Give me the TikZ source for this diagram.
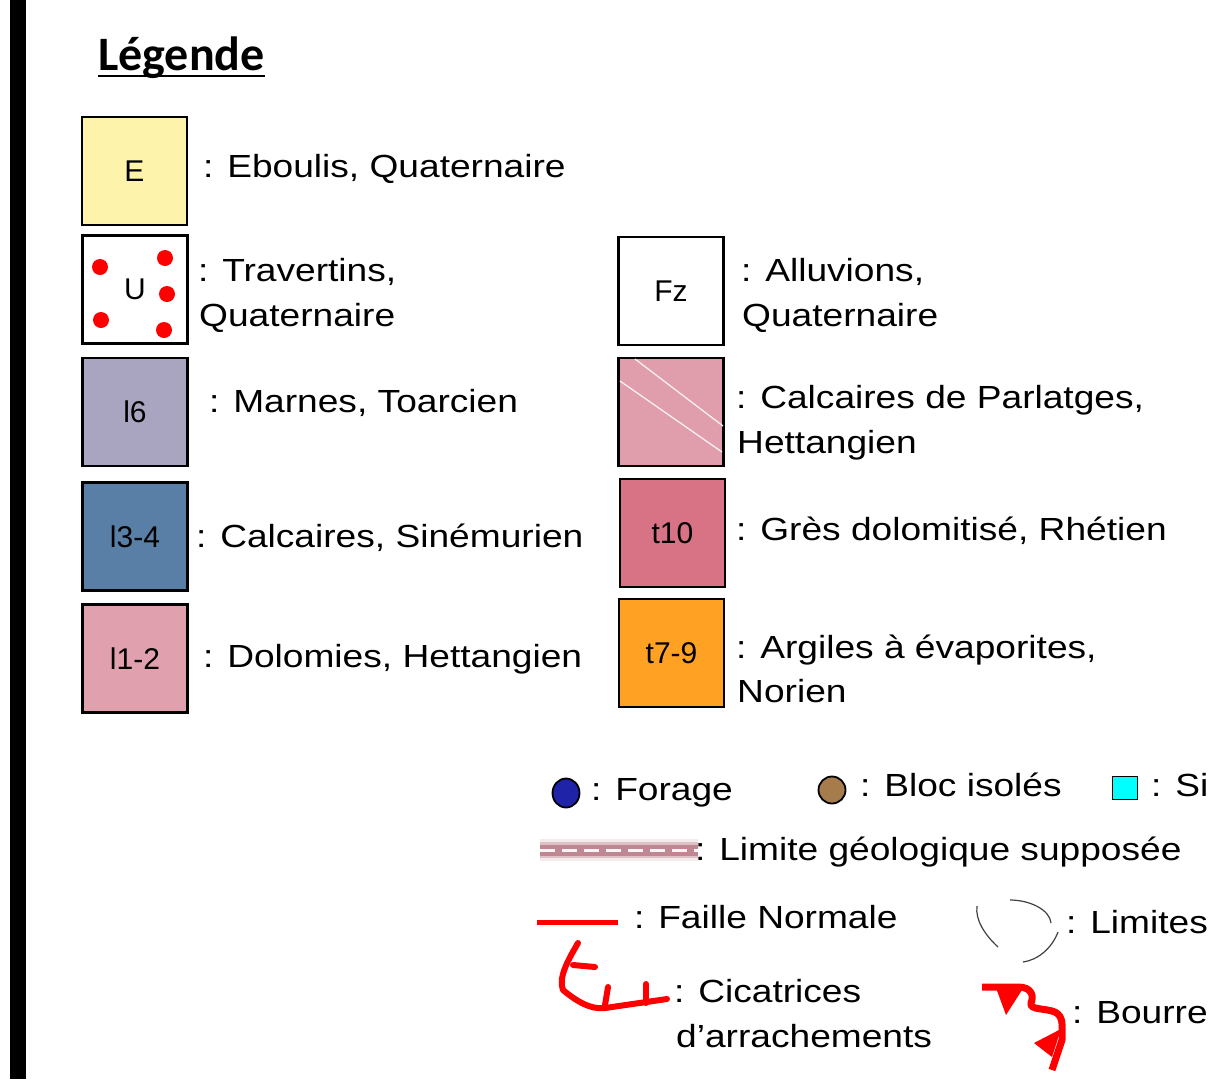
\documentclass[tikz,border=0pt]{standalone}
\usepackage{fontspec}
\usetikzlibrary{shapes.geometric}
\setmainfont[FakeStretch=1.16]{Liberation Sans}
\newfontfamily\labfont{Liberation Sans}
\newfontfamily\titlefont{Carlito}
\definecolor{cE}{HTML}{FDF3AA}
\definecolor{cLsix}{HTML}{A9A4BF}
\definecolor{cLtq}{HTML}{5A7FA6}
\definecolor{cLud}{HTML}{E0A0AE}
\definecolor{cPar}{HTML}{E09DAB}
\definecolor{cTdix}{HTML}{D77384}
\definecolor{cTsn}{HTML}{FFA122}
\definecolor{cFor}{HTML}{1F23A8}
\definecolor{cBloc}{HTML}{A67C4C}
\definecolor{cLim}{HTML}{B87A86}
\definecolor{cSite}{HTML}{00FFFF}
\begin{document}
\begin{tikzpicture}[x=1pt,y=-1pt,
  box/.style={draw=black, line width=2.5pt, minimum width=105pt, minimum height=108pt, inner sep=0pt, font=\labfont\fontsize{30}{36}\selectfont},
  txt/.style={anchor=base west, inner sep=0pt, font=\fontsize{32}{38}\selectfont},
  rdot/.style={circle, fill=red, minimum size=16pt, inner sep=0pt},
  redline/.style={draw=red, line width=6pt, line cap=round, line join=round},
]
\useasboundingbox (0,0) rectangle (1209,1079);
\fill[black] (10,0) rectangle (25.5,1079);

% title
\node[anchor=base west, inner sep=0pt, font=\titlefont\bfseries\fontsize{48}{52}\selectfont] (title) at (98,70) {Légende};
\draw[line width=2pt] ([yshift=-6pt]title.base west) -- ([yshift=-6pt]title.base east);

% boxes, left column
\node[box, fill=cE] (E) at (134.5,171) {E};
\node[box, fill=white] (U) at (135,289.5) {U};
\node[rdot] (d1) at (100,267) {};
\node[rdot] (d2) at (165,258) {};
\node[rdot] (d3) at (167,294) {};
\node[rdot] (d4) at (101,320) {};
\node[rdot] (d5) at (164,330) {};
\node[box, fill=cLsix] (l6) at (135,412) {l6};
\node[box, fill=cLtq] (l34) at (135,536.5) {l3-4};
\node[box, fill=cLud] (l12) at (135,658.5) {l1-2};

% boxes, right column
\node[box, fill=white] (Fz) at (671,291) {Fz};
\node[box, fill=cPar] (Par) at (671,412) {};
\draw[white!85!cPar, line width=1.3pt] (635,359) -- (723,426);
\draw[white!85!cPar, line width=1.3pt] (620,381) -- (722,452);
\node[box, fill=cTdix] (t10) at (672.5,533) {t10};
\node[box, fill=cTsn] (t79) at (671.5,653) {t7-9};

% texts
\node[txt] (tE) at (203,177) {: Eboulis, Quaternaire};
\node[txt] (tU) at (198,281) {: Travertins,};
\node[txt] (tUb) at (199,326) {Quaternaire};
\node[txt] (tl6) at (209,412) {: Marnes, Toarcien};
\node[txt] (tl34) at (196,547) {: Calcaires, Sinémurien};
\node[txt] (tl12) at (203,667) {: Dolomies, Hettangien};
\node[txt] (tFz) at (741,281) {: Alluvions,};
\node[txt] (tFzb) at (742,326) {Quaternaire};
\node[txt] (tPar) at (736,408) {: Calcaires de Parlatges,};
\node[txt] (tParb) at (737,453) {Hettangien};
\node[txt] (tt10) at (736,540) {: Grès dolomitisé, Rhétien};
\node[txt] (tt79) at (736,658) {: Argiles à évaporites,};
\node[txt] (tt79b) at (737,702) {Norien};

% point symbols
\node[draw=black, line width=1.8pt, fill=cFor, ellipse, minimum width=27pt, minimum height=29pt, inner sep=0pt] (for) at (566,793) {};
\node[txt] (tfor) at (591,800) {: Forage};
\node[draw=black, line width=1.8pt, fill=cBloc, ellipse, minimum width=27pt, minimum height=27pt, inner sep=0pt] (bloc) at (832,790) {};
\node[txt] (tbloc) at (860,796) {: Bloc isolés};
\node[draw=black, line width=1.8pt, fill=cSite, minimum width=25pt, minimum height=23pt, inner sep=0pt] (site) at (1125,788) {};
\node[txt] (tsite) at (1151,796) {: Si};

% limite supposee
\coordinate (la) at (540,850);
\coordinate (lb) at (698,850);
\draw[cLim!30, line width=22pt, opacity=0.5] (la) -- (lb);
\draw[cLim!60, line width=16pt, opacity=0.7] (la) -- (lb);
\draw[cLim!90, line width=11pt] (la) -- (lb);
\draw[white!92!cLim, line width=3pt, dash pattern=on 15pt off 7pt] (la) -- (lb);
\node[txt] (tlim) at (695,860) {: Limite géologique supposée};

% faille normale
\coordinate (fa) at (537,922);
\coordinate (fb) at (618,922);
\draw[red, line width=5pt] (fa) -- (fb);
\node[txt] (tfa) at (634,928) {: Faille Normale};

% cicatrices
\draw[redline] (578,943) .. controls (568,960) and (558,978) .. (563,990)
  .. controls (575,1000) and (590,1010) .. (605,1008) -- (667,999);
\draw[redline] (573,965) -- (595,967);
\draw[redline] (608,987) -- (605,1005);
\draw[redline] (646,984) -- (646,1003);
\node[txt] (tcic) at (674,1002) {: Cicatrices};
\node[txt] (tcicb) at (676,1047) {d’arrachements};

% limites
\draw[black!75, line width=1.2pt] (977,906) .. controls (975,920) and (985,935) .. (998,947);
\draw[black!75, line width=1.2pt] (1010,900) .. controls (1030,900) and (1050,910) .. (1051,923);
\draw[black!75, line width=1.2pt] (1058,932) .. controls (1052,948) and (1038,960) .. (1023,962);
\node[txt] (tlims) at (1066,933) {: Limites};

% bourrelet
\draw[redline, line width=7pt, line cap=butt] (982,987) -- (1018,987)
  .. controls (1032,987) and (1034,996) .. (1031,1003)
  .. controls (1029,1010) and (1045,1008) .. (1055,1012)
  .. controls (1064,1017) and (1062,1025) .. (1062,1040) -- (1052,1070);
\fill[red] (996,988) -- (1022,990) -- (1006,1015) -- cycle;
\fill[red] (1034,1043) -- (1061,1029) -- (1052,1057) -- cycle;
\node[txt] (tbour) at (1072,1023) {: Bourrel};
\end{tikzpicture}
\end{document}
